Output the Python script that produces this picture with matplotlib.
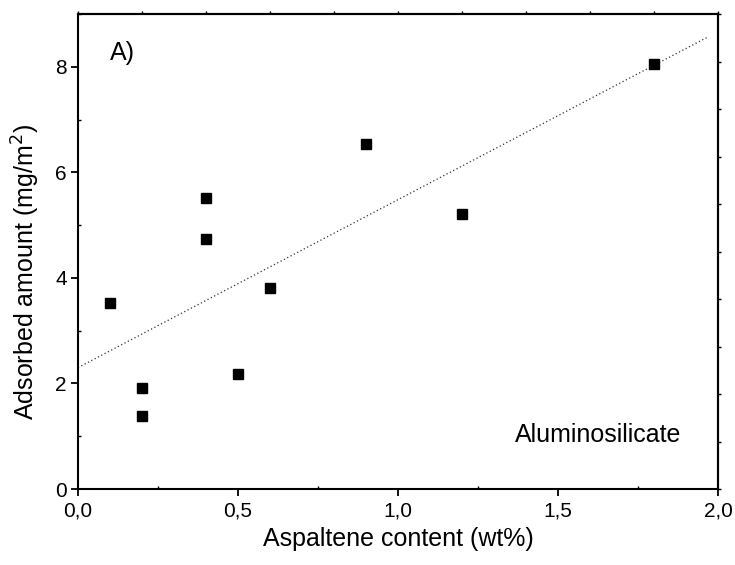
import matplotlib.pyplot as plt
from matplotlib.ticker import MultipleLocator, FuncFormatter

plt.rcParams['font.family'] = ['Liberation Sans', 'DejaVu Sans']

# asphaltene content (wt%) and adsorbed amount (mg/m2)
content = [0.1, 0.2, 0.2, 0.4, 0.4, 0.5, 0.6, 0.9, 1.2, 1.8]
adsorbed = [3.53, 1.91, 1.38, 5.52, 4.73, 2.17, 3.80, 6.54, 5.21, 8.06]

# linear trend line end points
fit_x = [0.0, 1.97]
fit_y = [2.30, 8.57]

fig = plt.figure(figsize=(7.35, 5.65), dpi=100)
ax = fig.add_axes([0.1061, 0.1345, 0.8708, 0.8407])

ax.plot(fit_x, fit_y, color='#333333', lw=0.9, linestyle=(0, (1, 2)))
ax.plot(content, adsorbed, 's', color='black', markersize=7)

ax.set_xlim(0, 2.0)
ax.set_ylim(0, 9)
ax.xaxis.set_major_locator(MultipleLocator(0.5))
ax.xaxis.set_minor_locator(MultipleLocator(0.25))
ax.yaxis.set_major_locator(MultipleLocator(2))
ax.yaxis.set_minor_locator(MultipleLocator(1))
ax.xaxis.set_major_formatter(FuncFormatter(lambda v, p: f'{v:.1f}'.replace('.', ',')))
ax.yaxis.set_major_formatter(FuncFormatter(lambda v, p: f'{v:.0f}'))

ax.tick_params(which='major', direction='out', length=5, width=1.3, labelsize=15)
ax.tick_params(which='minor', direction='in', length=2, width=1.0)
ax.tick_params(axis='x', which='major', pad=4)
ax.tick_params(axis='y', which='major', pad=3)
for s in ax.spines.values():
    s.set_linewidth(1.5)

# small ticks on top and right frame
top = ax.secondary_xaxis('top')
top.xaxis.set_major_locator(MultipleLocator(0.2))
top.tick_params(direction='out', length=2, width=1.0, labeltop=False)
right = ax.secondary_yaxis('right')
right.yaxis.set_major_locator(MultipleLocator(0.9))
right.tick_params(direction='out', length=2, width=1.0, labelright=False)
top.spines['top'].set_linewidth(1.5)
right.spines['right'].set_linewidth(1.5)

ax.set_xlabel('Aspaltene content (wt%)', fontsize=18, labelpad=5)
ax.set_ylabel('Adsorbed amount (mg/m$^2$)', fontsize=18)
ax.yaxis.set_label_coords(-0.057, 0.457)

ax.text(0.05, 0.918, 'A)', transform=ax.transAxes, fontsize=18, va='center')
ax.text(0.683, 0.113, 'Aluminosilicate', transform=ax.transAxes, fontsize=18, va='center')

fig.savefig('out.png', dpi=100)
